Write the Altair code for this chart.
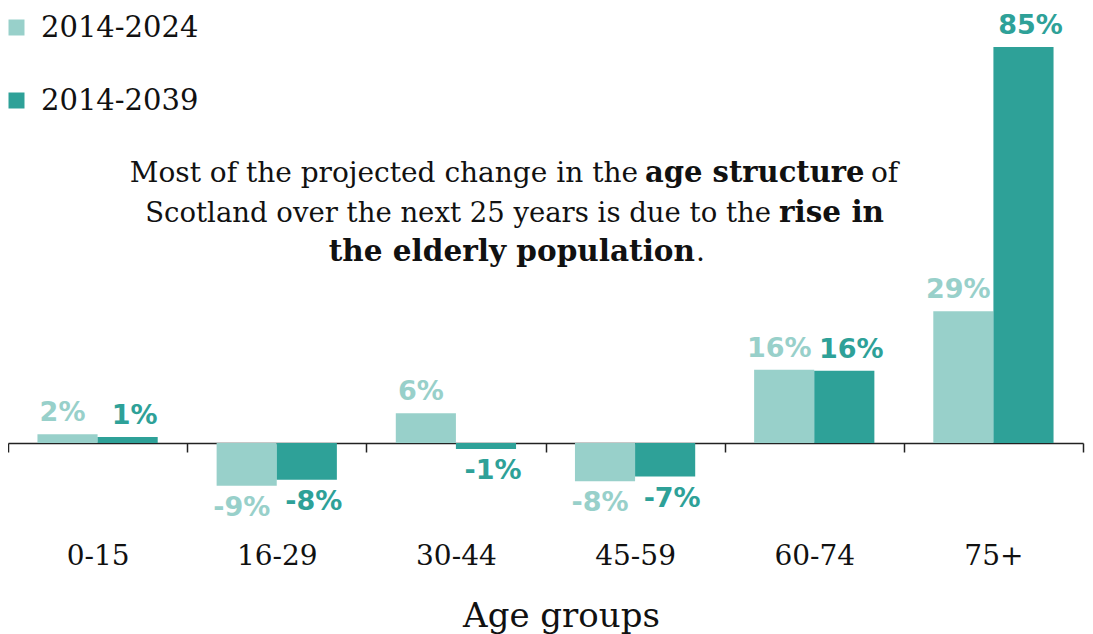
import altair as alt
import pandas as pd

ages = ["0-15", "16-29", "30-44", "45-59", "60-74", "75+"]
series = ["2014-2024", "2014-2039"]
v2024 = [1.9, -9.2, 6.4, -8.2, 15.7, 28.3]
v2039 = [1.3, -7.9, -1.3, -7.2, 15.5, 85.0]
lab2024 = ["2%", "-9%", "6%", "-8%", "16%", "29%"]
lab2039 = ["1%", "-8%", "-1%", "-7%", "16%", "85%"]
colors = ["#98d0ca", "#2ea198"]

rows = []
for a, v, l in zip(ages, v2024, lab2024):
    rows.append({"age": a, "series": series[0], "val": v, "lab": l})
for a, v, l in zip(ages, v2039, lab2039):
    rows.append({"age": a, "series": series[1], "val": v, "lab": l})
df = pd.DataFrame(rows)

SERIF = "DejaVu Serif"
SANS = "DejaVu Sans"

xscale = alt.Scale(paddingInner=0, paddingOuter=0)
xoff = alt.XOffset("series:N", sort=series, scale=alt.Scale(paddingInner=0, paddingOuter=0.49))
yscale = alt.Scale(domain=[-12.88, 93.37], nice=False, zero=False)
cscale = alt.Scale(domain=series, range=colors)

bars = alt.Chart(df).mark_bar().encode(
    x=alt.X("age:N", sort=ages, scale=xscale,
            axis=alt.Axis(title="Age groups", labelAngle=0, offset=-60,
                          tickBand="extent", tickSize=9, tickWidth=1.5,
                          domainWidth=1.5, domainColor="#222", tickColor="#222",
                          labelFont=SERIF, labelFontSize=28, labelColor="#111",
                          labelPadding=90, labelBaseline="top",
                          titleFont=SERIF, titleFontSize=34, titleFontWeight="normal",
                          titleColor="#111", titlePadding=29, titleX=553)),
    xOffset=xoff,
    y=alt.Y("val:Q", scale=yscale, axis=None),
    color=alt.Color("series:N", scale=cscale, sort=series,
                    legend=alt.Legend(title=None, orient="none", legendX=-6, legendY=5,
                                      padding=0, symbolType="square", symbolSize=256,
                                      symbolStrokeWidth=0, labelFont=SERIF,
                                      labelFontSize=29, labelColor="#111",
                                      labelOffset=10, rowPadding=43)),
)


def labels(ser, positive, dx):
    cond = (alt.datum.val >= 0) if positive else (alt.datum.val < 0)
    return alt.Chart(df).transform_filter(alt.datum.series == ser).transform_filter(cond).mark_text(
        font=SANS, fontWeight="bold", fontSize=27,
        baseline="alphabetic" if positive else "top",
        dy=-13 if positive else 9, dx=dx
    ).encode(
        x=alt.X("age:N", sort=ages),
        xOffset=xoff,
        y=alt.Y("val:Q"),
        text="lab:N",
        color=alt.Color("series:N", scale=cscale, legend=None),
    )


label_layers = [
    labels(series[0], True, -5), labels(series[0], False, -5),
    labels(series[1], True, 7), labels(series[1], False, 7),
]


def seg(text, x, y, align, bold, size):
    return alt.Chart(pd.DataFrame({"t": [text]})).mark_text(
        font=SERIF, fontSize=size, fontWeight="bold" if bold else "normal",
        align=align, baseline="alphabetic", color="#111", x=x, y=y
    ).encode(text="t:N")


annot = [
    seg("Most of the projected change in the", 630, 174, "right", False, 28),
    seg("age structure", 637, 174, "left", True, 29),
    seg("of", 863, 174, "left", False, 28),
    seg("Scotland over the next 25 years is due to the", 763, 214, "right", False, 27.5),
    seg("rise in", 771, 214, "left", True, 29.5),
    seg("the elderly population", 687, 253, "right", True, 29.5),
    seg(".", 688, 253, "left", False, 28),
]

chart = alt.layer(bars, *label_layers, *annot).properties(
    width=1075, height=495,
    autosize=alt.AutoSizeParams(type="none"),
    padding={"left": 0, "top": 0, "right": 2, "bottom": 135}
).configure_view(stroke=None)

chart.save("out.html", embed_options={"renderer": "svg", "actions": False})
